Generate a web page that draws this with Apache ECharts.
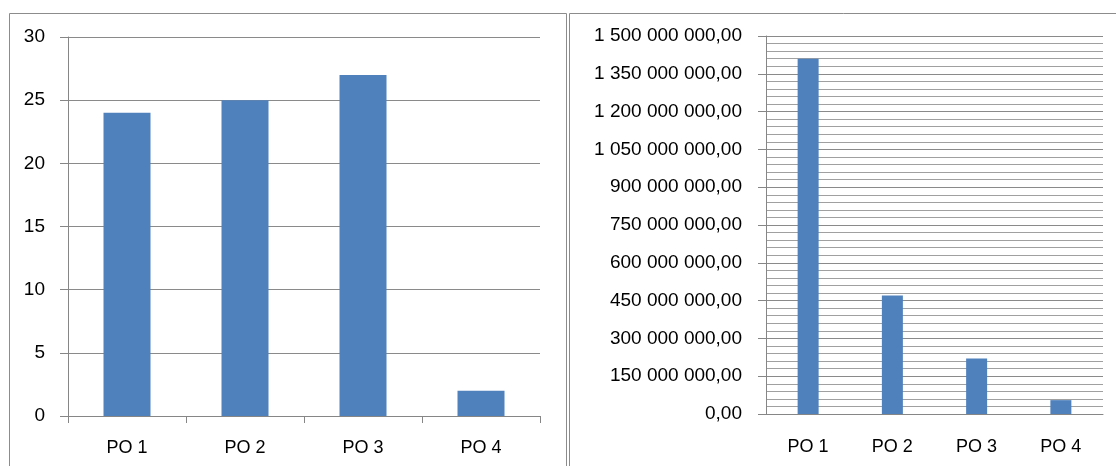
<!DOCTYPE html>
<html>
<head>
<meta charset="utf-8">
<script src="https://cdn.jsdelivr.net/npm/echarts@6/dist/echarts.min.js"></script>
<style>
html,body{margin:0;padding:0;background:#fff;}
#chart{width:1116px;height:466px;}
</style>
</head>
<body>
<div id="chart"></div>
<script>
var categories = ['PO 1', 'PO 2', 'PO 3', 'PO 4'];
var countValues = [24, 25, 27, 2];
var amountValues = [1410000000, 470000000, 220000000, 55000000];
var countTicks = { min: 0, max: 30, interval: 5 };
var amountTicks = { min: 0, max: 1500000000, interval: 150000000 };

function fmtAmount(v) {
  var s = Math.round(v).toString();
  var out = '';
  while (s.length > 3) {
    out = ' ' + s.slice(-3) + out;
    s = s.slice(0, -3);
  }
  return s + out + ',00';
}

var FONT = 'Liberation Sans';
var TXT = '#000';
var GRID_C = '#8a8a8a';
var AXIS_C = '#868686';
var BAR_C = '#4f81bd';

var chart = echarts.init(document.getElementById('chart'), null, { renderer: 'canvas' });
chart.setOption({
  animation: false,
  backgroundColor: '#fff',
  graphic: [
    { type: 'polyline', shape: { points: [[9.5, 470], [9.5, 13.5], [566.5, 13.5], [566.5, 470]] },
      style: { stroke: '#8c8c8c', lineWidth: 1, fill: null } },
    { type: 'polyline', shape: { points: [[569.5, 470], [569.5, 13.5], [1120, 13.5]] },
      style: { stroke: '#8c8c8c', lineWidth: 1, fill: null } }
  ],
  grid: [
    { left: 68, right: 576, top: 37, bottom: 50 },
    { left: 766, right: 13, top: 36, bottom: 52 }
  ],
  xAxis: [
    { type: 'category', gridIndex: 0, data: categories,
      axisLine: { lineStyle: { color: AXIS_C, width: 1 } },
      axisTick: { show: true, length: 7, lineStyle: { color: AXIS_C } },
      axisLabel: { fontFamily: FONT, fontSize: 18, color: TXT, margin: 23 } },
    { type: 'category', gridIndex: 1, data: categories,
      axisLine: { lineStyle: { color: AXIS_C, width: 1 } },
      axisTick: { show: false },
      axisLabel: { fontFamily: FONT, fontSize: 18, color: TXT, margin: 24 } }
  ],
  yAxis: [
    { type: 'value', gridIndex: 0, min: countTicks.min, max: countTicks.max, interval: countTicks.interval,
      axisLine: { show: true, lineStyle: { color: AXIS_C, width: 1 } },
      axisTick: { show: true, length: 8, lineStyle: { color: AXIS_C } },
      splitLine: { show: true, lineStyle: { color: GRID_C, width: 1 } },
      axisLabel: { fontFamily: FONT, fontSize: 19, color: TXT, margin: 23 } },
    { type: 'value', gridIndex: 1, min: amountTicks.min, max: amountTicks.max, interval: amountTicks.interval,
      axisLine: { show: true, lineStyle: { color: AXIS_C, width: 1 } },
      axisTick: { show: true, length: 8, lineStyle: { color: AXIS_C } },
      splitLine: { show: true, lineStyle: { color: GRID_C, width: 1 } },
      minorTick: { show: false, splitNumber: 5 },
      minorSplitLine: { show: true, lineStyle: { color: '#a0a0a0', width: 1 } },
      axisLabel: { fontFamily: FONT, fontSize: 19, color: TXT, margin: 24, formatter: fmtAmount } }
  ],
  series: [
    { type: 'bar', xAxisIndex: 0, yAxisIndex: 0, data: countValues, barWidth: 47,
      itemStyle: { color: BAR_C } },
    { type: 'bar', xAxisIndex: 1, yAxisIndex: 1, data: amountValues, barWidth: 21,
      itemStyle: { color: BAR_C } }
  ]
});
</script>
</body>
</html>
